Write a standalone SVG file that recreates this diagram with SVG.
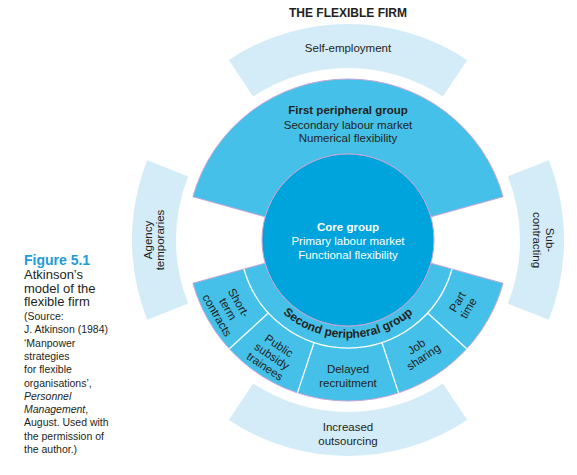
<svg xmlns="http://www.w3.org/2000/svg" width="577" height="475" viewBox="0 0 577 475">
<style>
.lt{fill:#d4ecf8}
.mid{fill:#45c1e9;stroke:#c5a6d6;stroke-width:1}
.core{fill:#00a4dc;stroke:#c5a6d6;stroke-width:1}
.div{fill:none;stroke:#ffffff;stroke-width:1.3}
text{font-family:"Liberation Sans",Arial,Helvetica,sans-serif;fill:#231f20}
.t{font-size:11.5px;text-anchor:middle}
.b{font-weight:bold}
.w{fill:#ffffff}
.cap{font-size:13px}
.src{font-size:10.5px}
</style>
<defs>
<path id="arcSP" d="M 250 240 A 98 98 0 0 0 446 240"/>
</defs>
<rect width="577" height="475" fill="#ffffff"/>
<text x="348" y="17" text-anchor="middle" class="b" font-size="12">THE FLEXIBLE FIRM</text>

<g id="self-employment">
<path class="lt" d="M 228.79 59.88 A 216 216 0 0 1 467.21 59.88 L 442.93 96.57 A 172 172 0 0 0 253.07 96.57 Z"/>
<text class="t" x="348" y="52">Self-employment</text>
</g>
<g id="increased-outsourcing">
<path class="lt" d="M 228.79 420.12 A 216 216 0 0 0 467.21 420.12 L 442.93 383.43 A 172 172 0 0 1 253.07 383.43 Z"/>
<text class="t" x="348" y="431">Increased</text>
<text class="t" x="348" y="445">outsourcing</text>
</g>
<g id="agency-temporaries">
<path class="lt" d="M 147.31 160.14 A 216 216 0 0 0 147.31 319.86 L 188.19 303.59 A 172 172 0 0 1 188.19 176.41 Z"/>
<g transform="translate(154,240) rotate(-90)">
<text class="t" x="0" y="-2.5">Agency</text>
<text class="t" x="0" y="10">temporaries</text>
</g>
</g>
<g id="sub-contracting">
<path class="lt" d="M 548.69 160.14 A 216 216 0 0 1 548.69 319.86 L 507.81 303.59 A 172 172 0 0 0 507.81 176.41 Z"/>
<g transform="translate(543.5,240) rotate(90)">
<text class="t" x="0" y="-2.5">Sub-</text>
<text class="t" x="0" y="10.5">contracting</text>
</g>
</g>

<g id="first-peripheral">
<path class="mid" d="M 192.92 196.71 A 161 161 0 0 1 503.08 196.71 L 430.84 216.87 A 86 86 0 0 0 265.16 216.87 Z"/>
<text class="t b" font-size="12" x="348" y="114">First peripheral group</text>
<text class="t" x="348" y="128.5">Secondary labour market</text>
<text class="t" x="348" y="142">Numerical flexibility</text>
</g>

<g id="second-peripheral">
<path class="mid" d="M 192.92 283.29 A 161 161 0 0 0 503.08 283.29 L 430.84 263.13 A 86 86 0 0 1 265.16 263.13 Z"/>
<text class="b" font-size="12" text-anchor="middle"><textPath href="#arcSP" startOffset="50%">Second peripheral group</textPath></text>
</g>

<g id="connectors">
<path class="div" d="M 243.97 269.04 A 108 108 0 0 0 452.03 269.04"/>
<path class="div" d="M 268.37 312.96 L 229.3 348.77"/>
<path class="div" d="M 314.09 342.54 L 297.45 392.85"/>
<path class="div" d="M 381.91 342.54 L 398.55 392.85"/>
<path class="div" d="M 427.63 312.96 L 466.7 348.77"/>
</g>

<g id="short-term-contracts" transform="translate(228,309) rotate(60)">
<text class="t" x="0" y="-8.5">Short-</text>
<text class="t" x="0" y="4">term</text>
<text class="t" x="0" y="16.5">contracts</text>
</g>
<g id="public-subsidy-trainees" transform="translate(272,356) rotate(34)">
<text class="t" x="0" y="-8.5">Public</text>
<text class="t" x="0" y="4">subsidy</text>
<text class="t" x="0" y="16.5">trainees</text>
</g>
<g id="delayed-recruitment">
<text class="t" x="348" y="373">Delayed</text>
<text class="t" x="348" y="387">recruitment</text>
</g>
<g id="job-sharing" transform="translate(420,352) rotate(-34)">
<text class="t" x="0" y="-2.5">Job</text>
<text class="t" x="0" y="10">sharing</text>
</g>
<g id="part-time" transform="translate(463,305) rotate(-60)">
<text class="t" x="0" y="-2.5">Part</text>
<text class="t" x="0" y="10">time</text>
</g>

<g id="core">
<circle class="core" cx="348" cy="240" r="86"/>
<text class="t b w" font-size="12" x="348" y="231">Core group</text>
<text class="t w" x="348" y="245">Primary labour market</text>
<text class="t w" x="348" y="259">Functional flexibility</text>
</g>

<g id="caption">
<text x="24" y="265" class="b" font-size="14" style="fill:#1e9bd7">Figure 5.1</text>
<text x="24" y="279" class="cap">Atkinson’s</text>
<text x="24" y="292.5" class="cap">model of the</text>
<text x="24" y="306" class="cap">flexible firm</text>
<text x="24" y="320" class="src">(Source:</text>
<text x="24" y="333.3" class="src">J. Atkinson (1984)</text>
<text x="24" y="346.6" class="src">‘Manpower</text>
<text x="24" y="359.9" class="src">strategies</text>
<text x="24" y="373.2" class="src">for flexible</text>
<text x="24" y="386.5" class="src">organisations’,</text>
<text x="24" y="399.8" class="src" font-style="italic">Personnel</text>
<text x="24" y="413.1" class="src"><tspan font-style="italic">Management</tspan>,</text>
<text x="24" y="426.4" class="src">August. Used with</text>
<text x="24" y="439.7" class="src">the permission of</text>
<text x="24" y="453" class="src">the author.)</text>
</g>
</svg>
